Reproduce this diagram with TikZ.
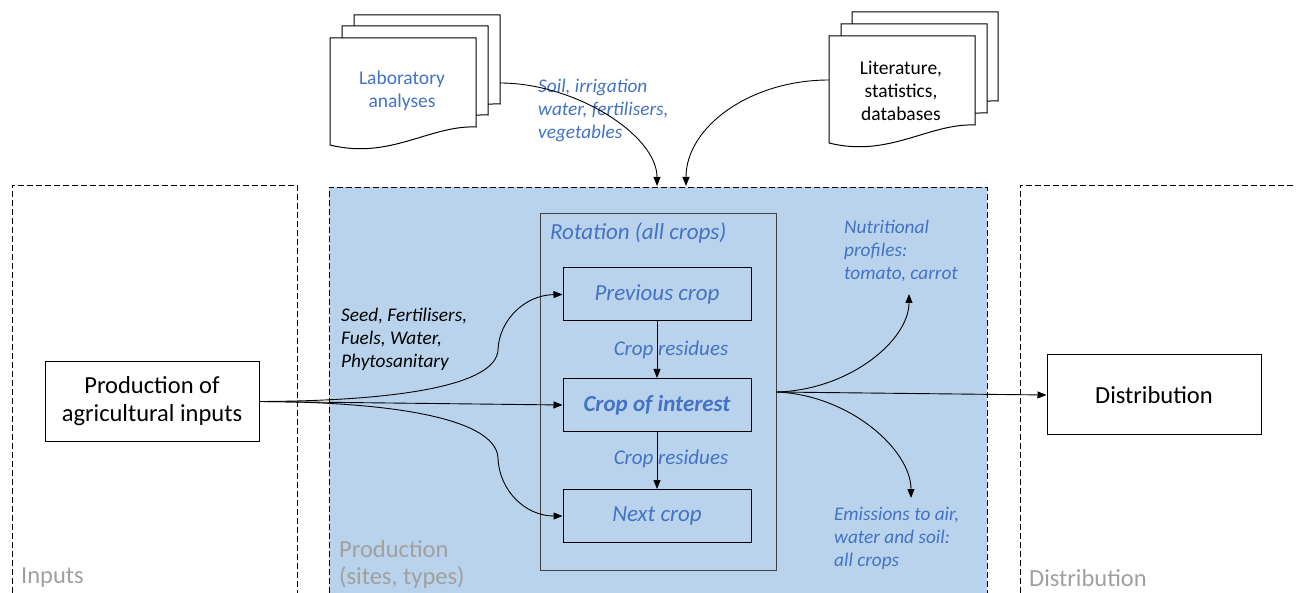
\documentclass[tikz,border=0pt]{standalone}
\usepackage{fontspec}
\setmainfont{Carlito}
\usetikzlibrary{arrows.meta}
\definecolor{tblue}{RGB}{68,114,196}
\definecolor{pfill}{RGB}{185,211,236}
\definecolor{lgray}{RGB}{160,160,160}
\definecolor{rgray}{RGB}{64,64,64}
\newcommand\myfs[2]{\fontsize{#1}{#2}\selectfont}
\begin{document}
\begin{tikzpicture}[x=1pt,y=-1pt,
  box/.style={draw, line width=1pt, inner sep=0pt, align=center},
  cropbox/.style={box, minimum width=188, minimum height=53, text=tblue, font=\myfs{23}{26}\itshape},
  region/.style={draw, line width=0.9pt, dash pattern=on 6pt off 3pt},
  regionlabel/.style={text=lgray, inner sep=0pt, align=left, font=\myfs{24.5}{27}},
  note/.style={inner sep=0pt, align=left, font=\myfs{19.3}{23}\itshape},
  arr/.style={-{Triangle[length=9pt,width=7pt]}, line width=0.9pt},
  docpage/.pic={\draw[line width=1pt, fill=white] (0,0) -- (146,0) -- (146,89) .. controls (100,87) and (60,122) .. (0,107) -- cycle;}
]
\useasboundingbox (0,0) rectangle (1296,593);
% regions
\fill[pfill] (329,187) rectangle (987,593);
\draw[region] (329,593) -- (329,187) -- (987,187) -- (987,593);
\draw[region] (12,593) -- (12,185) -- (297,185) -- (297,593);
\draw[region] (1020,593) -- (1020,185) -- (1296,185);
\node[regionlabel, anchor=west] (inlab) at (21,578) {Inputs};
\node[regionlabel, anchor=west] (prodlab) at (339,564) {Production\\(sites, types)};
\node[regionlabel, anchor=west] (distlab) at (1029,578) {Distribution};

% documents
\pic at (354,15) {docpage};
\pic at (342,26) {docpage};
\pic at (330,38) {docpage};
\node[inner sep=0pt, align=center, text=tblue, font=\myfs{19.5}{23}] (labt) at (402,91) {Laboratory\\analyses};
\pic at (852,12) {docpage};
\pic at (841,24) {docpage};
\pic at (829,36) {docpage};
\node[inner sep=0pt, align=center, font=\myfs{19.5}{23}] (litt) at (901,91) {Literature,\\statistics,\\databases};
\coordinate (labout) at (500,83);
\coordinate (litout) at (829,80);
\coordinate (labin) at (657,186);
\coordinate (litin) at (686,186);
\node[note, text=tblue, anchor=west] (soil) at (538,110) {Soil, irrigation\\water, fertilisers,\\vegetables};
\draw[arr] (labout) .. controls (575,83) and (657,135) .. (labin);
\draw[arr] (litout) .. controls (750,80) and (686,127) .. (litin);

% main nodes
\node[box, minimum width=214, minimum height=79, font=\myfs{24.5}{28}] (pai) at (152,401.5) {Production of\\agricultural inputs};
\node[box, minimum width=214, minimum height=80, font=\myfs{24.5}{28}] (dist) at (1154,395) {Distribution};
\node[draw=rgray, line width=1pt, inner sep=0pt, minimum width=236, minimum height=356] (rot) at (658,392) {};
\node[inner sep=0pt, anchor=west, text=tblue, font=\myfs{23}{26}\itshape] (rotlab) at (550,233) {Rotation (all crops)};
\node[cropbox] (prev) at (657,294.5) {Previous crop};
\node[cropbox, font=\myfs{23}{26}\bfseries\itshape] (coi) at (657,405) {Crop of interest};
\node[cropbox] (next) at (657,516) {Next crop};
\node[inner sep=0pt, text=tblue, font=\myfs{21}{24}\itshape] (cr1) at (671,350) {Crop residues};
\node[inner sep=0pt, text=tblue, font=\myfs{21}{24}\itshape] (cr2) at (671,459) {Crop residues};
\draw[arr] (prev) -- (coi);
\draw[arr] (coi) -- (next);

% inputs fan
\node[note, anchor=west] (seed) at (341,339.5) {Seed, Fertilisers,\\Fuels, Water,\\Phytosanitary};
\draw[arr] (pai.east) .. controls (400,401) and (496,385) .. (498,350) .. controls (499,320) and (525,295) .. (prev.west);
\draw[arr] (pai.east) -- (coi.west);
\draw[arr] (pai.east) .. controls (400,402) and (496,420) .. (498,458) .. controls (499,490) and (525,516) .. (next.west);

% outputs fan
\coordinate (nutr) at (909,294);
\coordinate (emis) at (911,498);
\node[note, text=tblue, anchor=west] (nutrt) at (844,251) {Nutritional\\profiles:\\tomato, carrot};
\node[note, text=tblue, anchor=west] (emist) at (834,538) {Emissions to air,\\water and soil:\\all crops};
\draw[arr] (rot.east) .. controls (850,390) and (909,340) .. (nutr);
\draw[arr] (rot.east) .. controls (850,395) and (911,450) .. (emis);
\draw[arr] (rot.east) -- (dist.west);
\end{tikzpicture}
\end{document}
